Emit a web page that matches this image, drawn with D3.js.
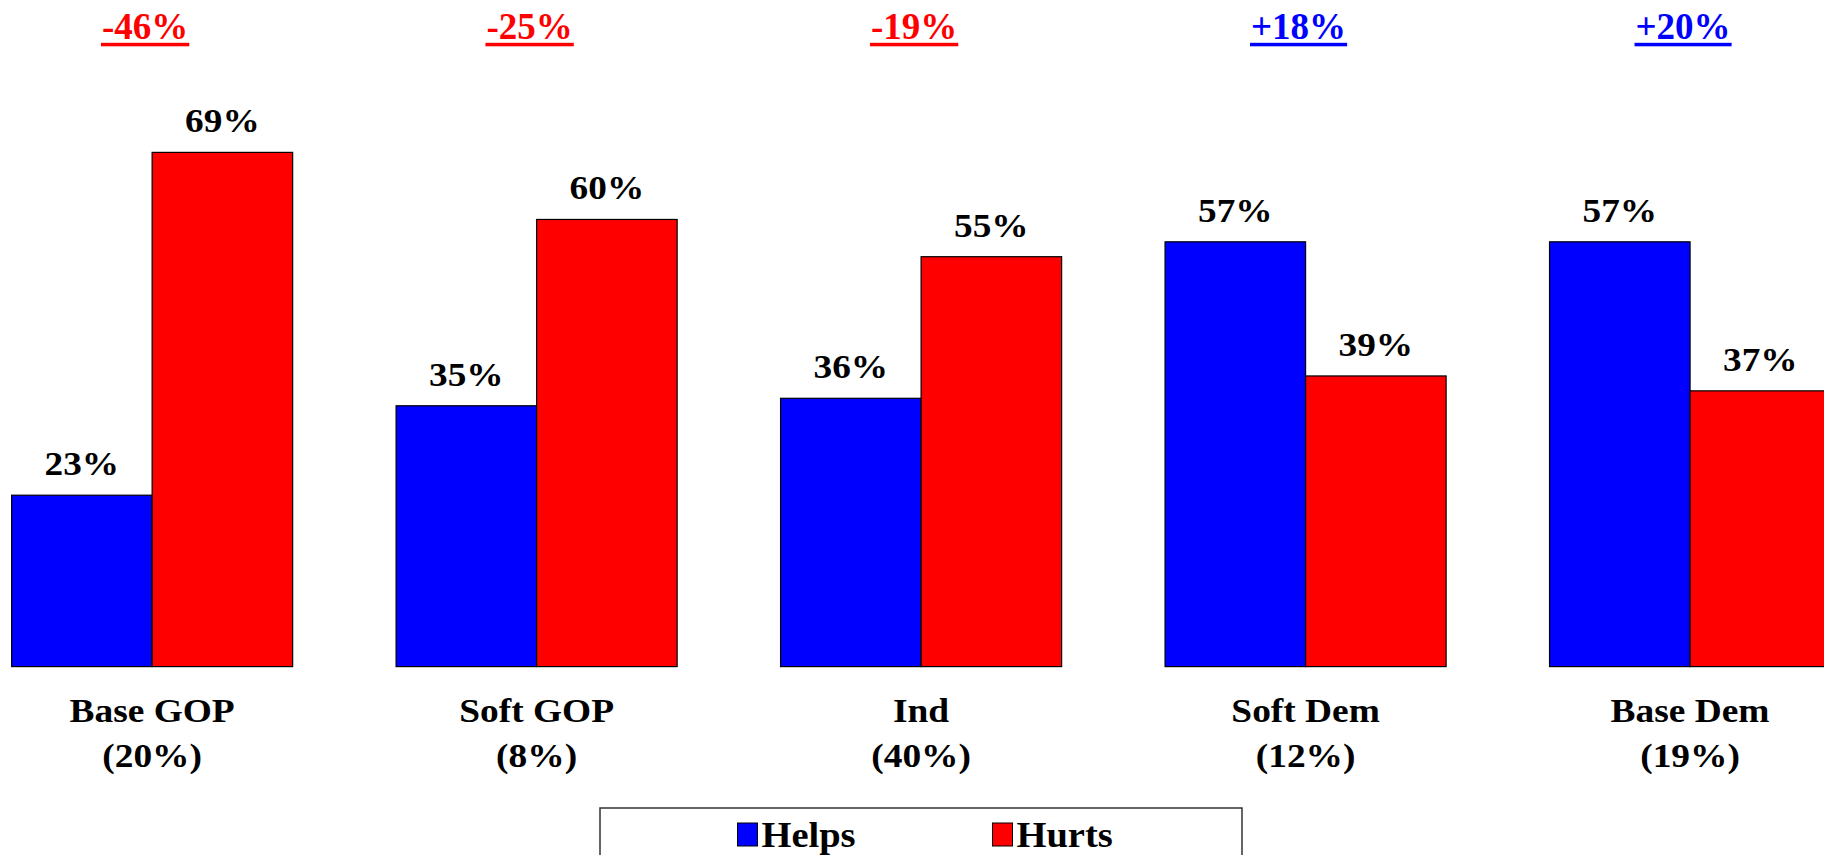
<!DOCTYPE html>
<html>
<head>
<meta charset="utf-8">
<script src="https://cdnjs.cloudflare.com/ajax/libs/d3/7.8.5/d3.min.js"></script>
<style>
	body { margin: 0; background: #fff; }
</style>
</head>
<body>
<svg id="chart" width="1824" height="855"></svg>
<script>
// data
var categories = ["Base GOP", "Soft GOP", "Ind", "Soft Dem", "Base Dem"];
var shares = ["(20%)", "(8%)", "(40%)", "(12%)", "(19%)"];
var series = ["Helps", "Hurts"];
var helps = [23, 35, 36, 57, 57];
var hurts = [69, 60, 55, 39, 37];
var netLabels = ["-46%", "-25%", "-19%", "+18%", "+20%"];

var colors = { "Helps": "#0000ff", "Hurts": "#ff0000" };
var serif = "'Liberation Serif', 'Times New Roman', 'DejaVu Serif', serif";

var svg = d3.select("#chart")
	.style("font-family", serif)
	.style("font-weight", "bold");
svg.append("rect").attr("width", 1824).attr("height", 855).attr("fill", "#fff");

var x0 = d3.scaleBand()
	.domain(categories)
	.range([11.6, 1830.6])
	.paddingInner(0.269)
	.paddingOuter(0);

var x1 = d3.scaleBand()
	.domain(series)
	.range([0, x0.bandwidth()]);

var y = d3.scaleLinear()
	.domain([0, 80])
	.range([666.6, 70.4]);

var rows = categories.map(function(c, i) {
	return { cat: c, share: shares[i], net: netLabels[i], values: [
		{ key: "Helps", value: helps[i] },
		{ key: "Hurts", value: hurts[i] }
	]};
});

// text in the original is drawn a bit wide, so stretch it
function wide(sel, sx) {
	return sel.attr("transform", function() {
		var t = d3.select(this);
		return "translate(" + t.attr("data-x") + "," + t.attr("data-y") + ") scale(" + sx + ",1)";
	});
}

var groups = svg.selectAll(".group")
	.data(rows)
	.enter().append("g")
	.attr("class", "group")
	.attr("transform", function(d) { return "translate(" + x0(d.cat) + ",0)"; });

// bars
groups.selectAll("rect")
	.data(function(d) { return d.values; })
	.enter().append("rect")
	.attr("x", function(d) { return x1(d.key); })
	.attr("y", function(d) { return y(d.value); })
	.attr("width", x1.bandwidth())
	.attr("height", function(d) { return y(0) - y(d.value); })
	.attr("fill", function(d) { return colors[d.key]; })
	.attr("stroke", "#000")
	.attr("stroke-width", 1.2);

// value labels
groups.selectAll(".val")
	.data(function(d) { return d.values; })
	.enter().append("text")
	.attr("class", "val")
	.attr("data-x", function(d) { return x1(d.key) + x1.bandwidth() / 2; })
	.attr("data-y", function(d) { return y(d.value) - 20; })
	.attr("text-anchor", "middle")
	.style("font-family", serif)
	.style("font-size", "33px")
	.text(function(d) { return d.value + "%"; })
	.call(wide, 1.13);

// category labels, two lines
groups.append("text")
	.attr("data-x", x0.bandwidth() / 2)
	.attr("data-y", 722)
	.attr("text-anchor", "middle")
	.style("font-family", serif)
	.style("font-size", "34px")
	.text(function(d) { return d.cat; })
	.call(wide, 1.1);

groups.append("text")
	.attr("data-x", x0.bandwidth() / 2)
	.attr("data-y", 767)
	.attr("text-anchor", "middle")
	.style("font-family", serif)
	.style("font-size", "34px")
	.text(function(d) { return d.share; })
	.call(wide, 1.1);

// net labels on top, underlined
groups.each(function(d) {
	var g = d3.select(this);
	var col = d.net.charAt(0) == "-" ? "#ff0000" : "#0000ff";
	var t = g.append("text")
		.attr("x", x0.bandwidth() / 2 - 7)
		.attr("y", 39)
		.attr("text-anchor", "middle")
		.style("font-family", serif)
		.style("font-size", "37px")
		.attr("fill", col)
		.text(d.net);
	var w = t.node().getComputedTextLength();
	g.append("rect")
		.attr("x", x0.bandwidth() / 2 - 7 - w / 2 - 1)
		.attr("y", 42.8)
		.attr("width", w + 2)
		.attr("height", 3.5)
		.attr("fill", col);
});

// legend
var legend = svg.append("g");
legend.append("rect")
	.attr("x", 600).attr("y", 808)
	.attr("width", 642).attr("height", 80)
	.attr("fill", "#fff")
	.attr("stroke", "#333")
	.attr("stroke-width", 1.5);

var items = legend.selectAll(".item")
	.data(series)
	.enter().append("g")
	.attr("class", "item")
	.attr("transform", function(d, i) { return "translate(" + (737.5 + i * 255) + ",0)"; });

items.append("rect")
	.attr("x", 0).attr("y", 823)
	.attr("width", 20).attr("height", 23)
	.attr("fill", function(d) { return colors[d]; })
	.attr("stroke", "#000")
	.attr("stroke-width", 1);

items.append("text")
	.attr("data-x", 24)
	.attr("data-y", 847)
	.style("font-family", serif)
	.style("font-size", "35px")
	.text(function(d) { return d; })
	.call(wide, 1.1);
</script>
</body>
</html>
